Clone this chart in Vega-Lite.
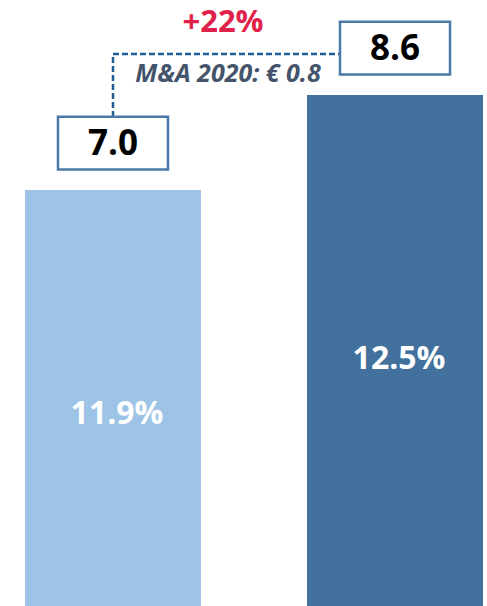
{
  "$schema": "https://vega.github.io/schema/vega-lite/v6.json",
  "width": 487,
  "height": 606,
  "padding": 0,
  "autosize": {"type": "none"},
  "background": "white",
  "config": {"view": {"stroke": null}, "font": "Open Sans"},
  "datasets": {
    "bars": [
      {"period": "2019", "value": 7.0, "margin": "11.9%"},
      {"period": "2020", "value": 8.6, "margin": "12.5%"}
    ],
    "growth": [
      {"from": "2019", "to": "2020", "fromValue": 7.0, "toValue": 8.6, "growth": "+22%", "note": "M&A 2020: € 0.8"}
    ]
  },
  "resolve": {"scale": {"y": "independent"}},
  "layer": [
    {
      "data": {"name": "bars"},
      "mark": {"type": "bar"},
      "encoding": {
        "x": {"field": "period", "type": "nominal", "axis": null,
              "scale": {"domain": ["2019", "2020"], "range": [25, 483], "paddingInner": 0.376, "paddingOuter": 0}},
        "y": {"field": "value", "type": "quantitative", "axis": null,
              "scale": {"domain": [0, 10.2], "nice": false, "zero": true}},
        "color": {"field": "period", "type": "nominal", "legend": null,
                  "scale": {"domain": ["2019", "2020"], "range": ["#9DC3E6", "#41719C"]}}
      }
    },
    {
      "data": {"name": "bars"},
      "mark": {"type": "text", "fontSize": 32, "fontWeight": "bold", "color": "white", "baseline": "middle", "align": "center", "xOffset": 4},
      "encoding": {
        "x": {"field": "period", "type": "nominal", "axis": null},
        "y": {"field": "value", "type": "quantitative", "axis": null,
              "scale": {"domain": [1.414, 19.04], "nice": false, "zero": false}},
        "text": {"field": "margin"}
      }
    },
    {
      "data": {"name": "growth"},
      "mark": {"type": "rule", "stroke": "#1F5E97", "strokeWidth": 2.5, "strokeDash": [6, 3], "yOffset": -73, "y2Offset": -41},
      "encoding": {
        "x": {"field": "from", "type": "nominal", "axis": null},
        "y": {"field": "fromValue", "type": "quantitative", "axis": null,
              "scale": {"domain": [0, 10.2], "nice": false, "zero": true}},
        "y2": {"field": "toValue"}
      }
    },
    {
      "data": {"name": "growth"},
      "mark": {"type": "rule", "stroke": "#1F5E97", "strokeWidth": 2.5, "strokeDash": [6, 3], "yOffset": -41, "x2Offset": -53},
      "encoding": {
        "x": {"field": "from", "type": "nominal", "axis": null},
        "x2": {"field": "to"},
        "y": {"field": "toValue", "type": "quantitative", "axis": null,
              "scale": {"domain": [0, 10.2], "nice": false, "zero": true}}
      }
    },
    {
      "data": {"name": "bars"},
      "mark": {"type": "point", "shape": "M-1,-0.48L1,-0.48L1,0.48L-1,0.48Z", "size": 12100, "filled": true, "fill": "white", "stroke": "#4A78A8", "strokeWidth": 2.5, "opacity": 1, "fillOpacity": 1, "strokeOpacity": 1, "yOffset": -47},
      "encoding": {
        "x": {"field": "period", "type": "nominal", "axis": null},
        "y": {"field": "value", "type": "quantitative", "axis": null,
              "scale": {"domain": [0, 10.2], "nice": false, "zero": true}}
      }
    },
    {
      "data": {"name": "bars"},
      "mark": {"type": "text", "fontSize": 35, "fontWeight": "bold", "color": "black", "baseline": "middle", "align": "center", "yOffset": -46},
      "encoding": {
        "x": {"field": "period", "type": "nominal", "axis": null},
        "y": {"field": "value", "type": "quantitative", "axis": null,
              "scale": {"domain": [0, 10.2], "nice": false, "zero": true}},
        "text": {"field": "value", "format": ".1f"}
      }
    },
    {
      "data": {"name": "growth"},
      "mark": {"type": "text", "fontSize": 31, "fontWeight": "bold", "color": "#E0224A", "baseline": "middle", "align": "center", "xOffset": 110, "yOffset": -72},
      "encoding": {
        "x": {"field": "from", "type": "nominal", "axis": null},
        "y": {"field": "toValue", "type": "quantitative", "axis": null,
              "scale": {"domain": [0, 10.2], "nice": false, "zero": true}},
        "text": {"field": "growth"}
      }
    },
    {
      "data": {"name": "growth"},
      "mark": {"type": "text", "fontSize": 25, "fontWeight": "bold", "fontStyle": "italic", "color": "#44546A", "baseline": "middle", "align": "center", "xOffset": 115, "yOffset": -21},
      "encoding": {
        "x": {"field": "from", "type": "nominal", "axis": null},
        "y": {"field": "toValue", "type": "quantitative", "axis": null,
              "scale": {"domain": [0, 10.2], "nice": false, "zero": true}},
        "text": {"field": "note"}
      }
    }
  ]
}
